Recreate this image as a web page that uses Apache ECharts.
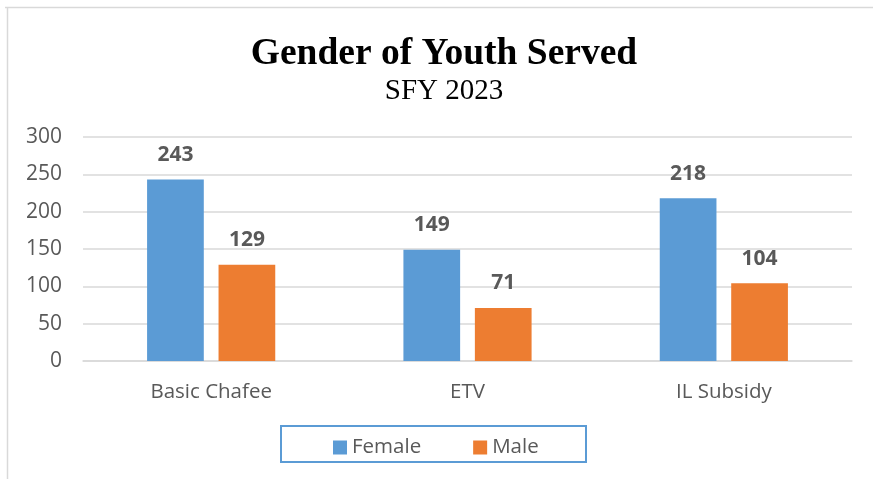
<!DOCTYPE html>
<html>
<head>
<meta charset="utf-8">
<script src="https://cdn.jsdelivr.net/npm/echarts@6/dist/echarts.min.js"></script>
<style>html,body{margin:0;padding:0;background:#fff}#c{width:873px;height:479px}</style>
</head>
<body>
<div id="c"></div>
<script>
const categories = ['Basic Chafee', 'ETV', 'IL Subsidy'];
const femaleValues = [243, 149, 218];
const maleValues = [129, 71, 104];
const seriesNames = ['Female', 'Male'];
const yTicks = [0, 50, 100, 150, 200, 250, 300];

const sans = 'Open Sans, Liberation Sans, sans-serif';
const serif = 'Liberation Serif, DejaVu Serif, serif';
const chart = echarts.init(document.getElementById('c'));
const labelStyle = {show: true, position: 'top', distance: 14, color: '#595959', fontSize: 21, fontWeight: 'bold', fontFamily: sans};
chart.setOption({
  animation: false,
  title: {
    text: 'Gender of Youth Served',
    subtext: 'SFY 2023',
    left: 439,
    textAlign: 'center',
    top: 30,
    itemGap: 4,
    textStyle: {fontFamily: serif, fontWeight: 'bold', fontSize: 37.5, color: '#000'},
    subtextStyle: {fontFamily: serif, fontSize: 29, color: '#000'}
  },
  graphic: [
    {type: 'line', shape: {x1: 5, y1: 7.5, x2: 873, y2: 7.5}, style: {stroke: '#d9d9d9', lineWidth: 1.5}},
    {type: 'line', shape: {x1: 7.5, y1: 7, x2: 7.5, y2: 479}, style: {stroke: '#d9d9d9', lineWidth: 1.5}},
    {type: 'rect', shape: {x: 281, y: 426, width: 305, height: 36}, style: {fill: 'none', stroke: '#5B9BD5', lineWidth: 2}}
  ],
  legend: {
    data: seriesNames,
    left: 328,
    top: 432,
    itemWidth: 14,
    itemHeight: 14,
    itemGap: 52,
    icon: 'rect',
    textStyle: {color: '#595959', fontSize: 20.5, fontFamily: sans}
  },
  grid: {left: 83, right: 21, top: 137, bottom: 118},
  xAxis: {
    type: 'category',
    data: categories,
    axisTick: {show: false},
    axisLine: {lineStyle: {color: '#d9d9d9', width: 1.5}},
    axisLabel: {color: '#595959', fontSize: 20.5, margin: 21, fontFamily: sans}
  },
  yAxis: {
    type: 'value',
    min: yTicks[0],
    max: yTicks[yTicks.length - 1],
    interval: 50,
    axisLine: {show: false},
    axisTick: {show: false},
    splitLine: {lineStyle: {color: '#d9d9d9', width: 1.5}},
    axisLabel: {color: '#595959', fontSize: 21, margin: 21, fontFamily: sans}
  },
  series: [
    {name: seriesNames[0], type: 'bar', data: femaleValues, itemStyle: {color: '#5B9BD5'}, barGap: '26%', barCategoryGap: '50%', label: labelStyle},
    {name: seriesNames[1], type: 'bar', data: maleValues, itemStyle: {color: '#ED7D31'}, label: labelStyle}
  ]
});
</script>
</body>
</html>
